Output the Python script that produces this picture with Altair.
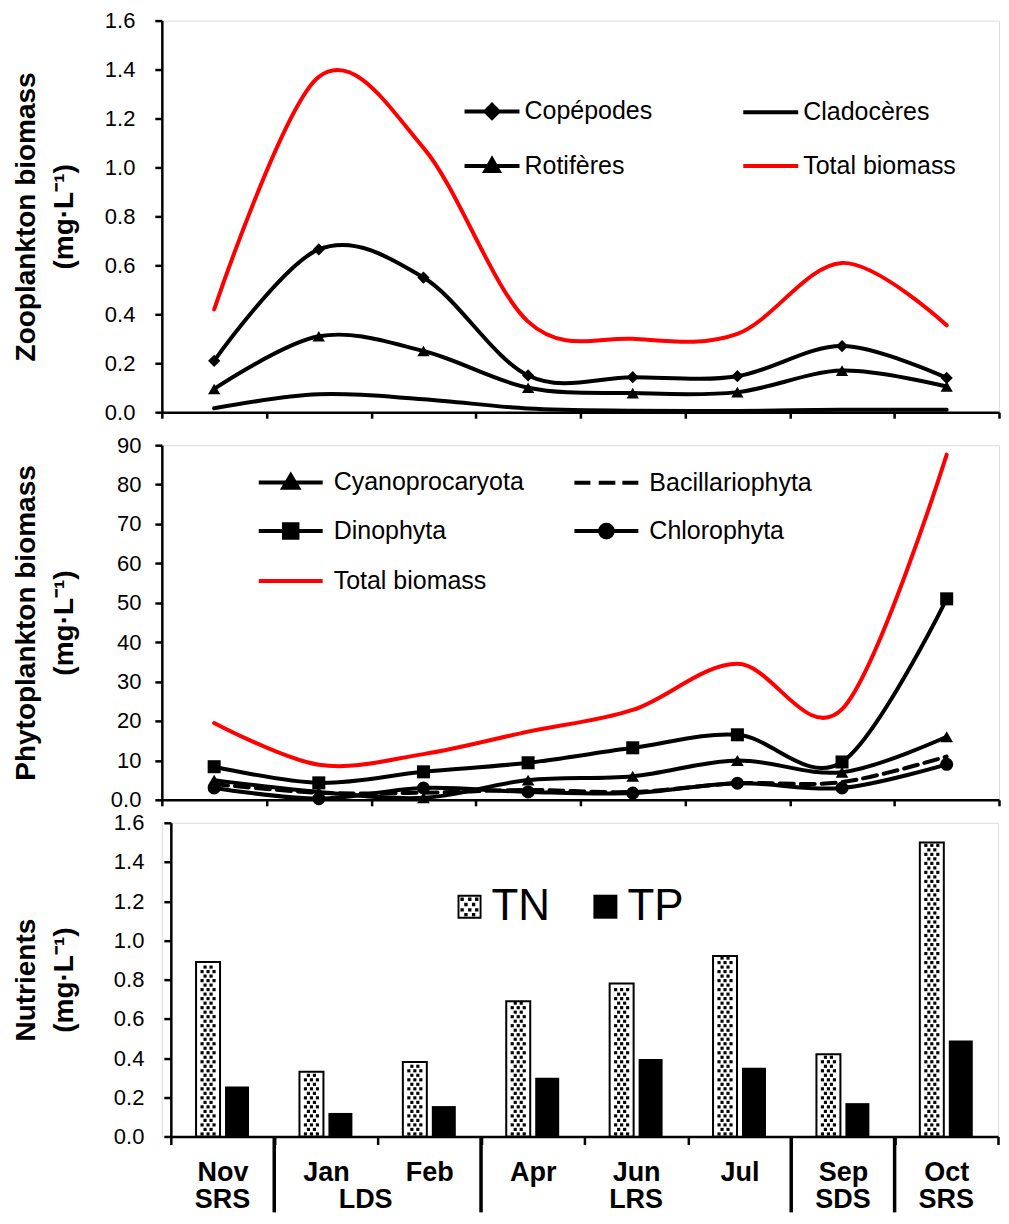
import altair as alt
import pandas as pd

FONT = "Liberation Sans"

months = ["Nov", "Jan", "Feb", "Apr", "Jun", "Jul", "Sep", "Oct"]

# Zooplankton biomass (mg/L)
copepodes = [0.21, 0.665, 0.55, 0.15, 0.143, 0.147, 0.27, 0.14]
cladoceres = [0.016, 0.073, 0.053, 0.015, 0.006, 0.005, 0.010, 0.010]
rotiferes = [0.095, 0.31, 0.25, 0.10, 0.078, 0.082, 0.17, 0.105]
total_zoo = [0.42, 1.37, 1.08, 0.37, 0.30, 0.32, 0.61, 0.355]

# Phytoplankton biomass (mg/L)
cyano = [5.0, 2.0, 0.5, 5.0, 6.0, 10.0, 7.0, 16.0]
bacil = [4.0, 1.8, 1.8, 2.5, 2.0, 4.2, 4.5, 11.0]
dino = [8.4, 4.3, 7.1, 9.4, 13.2, 16.5, 9.6, 51.0]
chloro = [3.0, 0.3, 3.0, 2.0, 1.7, 4.2, 3.0, 9.0]
total_phyto = [19.5, 8.9, 11.6, 17.3, 22.8, 34.5, 23.0, 87.6]

# Nutrients (mg/L)
tn = [0.89, 0.33, 0.38, 0.69, 0.78, 0.92, 0.42, 1.50]
tp = [0.255, 0.12, 0.155, 0.30, 0.395, 0.35, 0.17, 0.49]

# Seasons
season_center_months = ["Nov", "Jun", "Sep", "Oct"]
season_center_labels = ["SRS", "LRS", "SDS", "SRS"]
season_edge_months = ["Feb"]
season_edge_labels = ["LDS"]
group_edge_months = ["Jan", "Apr", "Sep", "Oct"]

# legend orders (legend grid is filled column by column)
zoo_names = ["Copépodes", "Rotifères", "Cladocères", "Total biomass"]
phyto_names = ["Cyanoprocaryota", "Dinophyta", "Total biomass", "Bacillariophyta", "Chlorophyta"]
nut_names = ["TN", "TP"]

zoo_df = pd.DataFrame({"month": months, "cop": copepodes, "cla": cladoceres,
                       "rot": rotiferes, "tot": total_zoo})
phy_df = pd.DataFrame({"month": months, "cya": cyano, "bac": bacil, "din": dino,
                       "chl": chloro, "tot": total_phyto})
nut_df = pd.DataFrame({"month": months, "TN": tn, "TP": tp})

W_TOP, H_TOP = 838, 392
W_MID, H_MID = 838, 355
W_BOT, H_BOT = 837, 314
BOT_SHIFT = 9

TITLE_KW = dict(titleFont=FONT, titleFontSize=28, titleFontWeight="bold",
                titleLineHeight=38, titleColor="black",
                minExtent=63, maxExtent=63)
YAX_KW = dict(labelFont=FONT, labelFontSize=22, labelColor="black", tickSize=7,
              tickWidth=2.5, domainWidth=2.5, domainColor="black", tickColor="black",
              grid=False, labelOverlap=False)


def xscale():
    return alt.Scale(type="band", domain=months, paddingInner=0, paddingOuter=0)


def bscale():
    return alt.Scale(type="band", domain=months, paddingInner=0, paddingOuter=0,
                     range=[BOT_SHIFT, W_BOT])


top_xaxis = alt.Axis(title=None, labels=False, tickBand="extent", tickSize=6,
                     tickWidth=2.5, domainWidth=2.5, domainColor="black", tickColor="black",
                     grid=False)


def line_layer(df, field, yscale, yaxis, color="black", dash=None):
    kw = dict(color=color, strokeWidth=4, interpolate="cardinal", tension=0,
              strokeCap="round", strokeJoin="round")
    if dash:
        kw["strokeDash"] = dash
    return alt.Chart(df).mark_line(**kw).encode(
        x=alt.X("month:N", sort=months, scale=xscale(), axis=top_xaxis),
        y=alt.Y(f"{field}:Q", scale=yscale, axis=yaxis))


def point_layer(df, field, yscale, yaxis, shape, size):
    return alt.Chart(df).mark_point(shape=shape, filled=True, size=size, color="black",
                                    opacity=1).encode(
        x=alt.X("month:N", sort=months, scale=xscale(), axis=top_xaxis),
        y=alt.Y(f"{field}:Q", scale=yscale, axis=yaxis))


def legend_layer(names, paths, colors, leg, with_stroke=True):
    df = pd.DataFrame({"series": names})
    enc = dict(
        shape=alt.Shape("series:N", scale=alt.Scale(domain=names, range=paths), legend=leg),
        fill=alt.Fill("series:N", scale=alt.Scale(domain=names, range=colors), legend=leg),
    )
    if with_stroke:
        enc["stroke"] = alt.Stroke("series:N", scale=alt.Scale(domain=names, range=colors),
                                   legend=leg)
    return alt.Chart(df).transform_filter("false").mark_point(filled=True, opacity=1).encode(**enc)


# ---------------- top panel ----------------
zscale = alt.Scale(domain=[0, 1.6], nice=False, zero=True)
zaxis = alt.Axis(values=[0, 0.2, 0.4, 0.6, 0.8, 1.0, 1.2, 1.4, 1.6], format=".1f",
                 title=["Zooplankton biomass", "(mg·L⁻¹)"], labelPadding=20, titlePadding=20,
                 **TITLE_KW, **YAX_KW)

P_LINE = "M-1,0L1,0"
P_DIAMOND = "M-1,0L1,0M0,-0.24L0.24,0L0,0.24L-0.24,0Z"
P_TRI_Z = "M-1,0L1,0M0,-0.24L0.24,0.18L-0.24,0.18Z"
zoo_paths = [P_DIAMOND, P_TRI_Z, P_LINE, P_LINE]
zoo_colors = ["black", "black", "black", "red"]
zleg = alt.Legend(orient="none", legendX=301, legendY=61, columns=2, title=None,
                  labelFont=FONT, labelFontSize=25, labelColor="black", labelLimit=400,
                  symbolSize=3025, symbolStrokeWidth=4, labelOffset=3,
                  columnPadding=83, rowPadding=10, symbolOpacity=1)

top = alt.layer(
    line_layer(zoo_df, "tot", zscale, zaxis, color="red"),
    line_layer(zoo_df, "cop", zscale, zaxis),
    line_layer(zoo_df, "cla", zscale, zaxis),
    line_layer(zoo_df, "rot", zscale, zaxis),
    point_layer(zoo_df, "cop", zscale, zaxis, "diamond", 150),
    point_layer(zoo_df, "rot", zscale, zaxis, "triangle-up", 150),
    legend_layer(zoo_names, zoo_paths, zoo_colors, zleg),
).properties(width=W_TOP, height=H_TOP)

# ---------------- middle panel ----------------
pscale = alt.Scale(domain=[0, 90], nice=False, zero=True)
paxis = alt.Axis(values=list(range(0, 91, 10)),
                 labelExpr="datum.value == 0 ? '0.0' : datum.label",
                 title=["Phytoplankton biomass", "(mg·L⁻¹)"], labelPadding=14, titlePadding=20,
                 **TITLE_KW, **YAX_KW)

circ = "M-0.2,0A0.2,0.2 0 1,0 0.2,0A0.2,0.2 0 1,0 -0.2,0Z"
P_TRI_P = "M-1,0L1,0M0,-0.22L0.23,0.17L-0.23,0.17Z"
P_DASH = "M-1,0L-0.5,0M-0.24,0L0.28,0M0.5,0L1,0"
P_SQUARE = "M-1,0L1,0M-0.21,-0.21L0.21,-0.21L0.21,0.21L-0.21,0.21Z"
P_CIRCLE = "M-1,0L1,0" + circ
phyto_paths = [P_TRI_P, P_SQUARE, P_LINE, P_DASH, P_CIRCLE]
phyto_colors = ["black", "black", "red", "black", "black"]
pleg = alt.Legend(orient="none", legendX=95, legendY=3, columns=2, title=None,
                  labelFont=FONT, labelFontSize=25, labelColor="black", labelLimit=400,
                  symbolSize=4096, symbolStrokeWidth=4, labelOffset=9,
                  columnPadding=42, rowPadding=1, symbolOpacity=1)

middle = alt.layer(
    line_layer(phy_df, "tot", pscale, paxis, color="red"),
    line_layer(phy_df, "din", pscale, paxis),
    line_layer(phy_df, "cya", pscale, paxis),
    line_layer(phy_df, "bac", pscale, paxis, dash=[14, 7]),
    line_layer(phy_df, "chl", pscale, paxis),
    point_layer(phy_df, "din", pscale, paxis, "square", 170),
    point_layer(phy_df, "cya", pscale, paxis, "triangle-up", 160),
    point_layer(phy_df, "chl", pscale, paxis, "circle", 170),
    legend_layer(phyto_names, phyto_paths, phyto_colors, pleg),
).properties(width=W_MID, height=H_MID)

# ---------------- bottom panel ----------------
nscale = alt.Scale(domain=[0, 1.6], nice=False, zero=True)
naxis = alt.Axis(values=[0, 0.2, 0.4, 0.6, 0.8, 1.0, 1.2, 1.4, 1.6], format=".1f",
                 title=["Nutrients", "(mg·L⁻¹)"], labelPadding=20, titlePadding=29,
                 offset=-BOT_SHIFT, **TITLE_KW, **YAX_KW)
bot_xaxis = alt.Axis(title=None, labels=True, tickBand="extent", tickSize=8,
                     tickWidth=2.5, domainWidth=2.5, domainColor="black", tickColor="black",
                     labelFont=FONT, labelFontSize=27, labelFontWeight="bold",
                     labelColor="black", labelPadding=15, labelAngle=0, grid=False)

# TN legend symbol: thin frame with dots inside (nonzero fill rule)
dots = []
k = 0
for yy in [-0.62, -0.18, 0.26, 0.66]:
    xs = [-0.62, 0.02, 0.6] if k % 2 == 0 else [-0.3, 0.34]
    for xx in xs:
        dots.append(f"M{xx - 0.14:.2f},{yy - 0.14:.2f}L{xx + 0.14:.2f},{yy - 0.14:.2f}"
                    f"L{xx + 0.14:.2f},{yy + 0.14:.2f}L{xx - 0.14:.2f},{yy + 0.14:.2f}Z")
    k += 1
tn_path = ("M-1,-1L1,-1L1,1L-1,1Z" "M-0.84,-0.84L-0.84,0.84L0.84,0.84L0.84,-0.84Z" + "".join(dots))
nleg = alt.Legend(orient="none", legendX=286, legendY=62, direction="horizontal", title=None,
                  labelFont=FONT, labelFontSize=44, labelColor="black",
                  symbolSize=576, symbolStrokeWidth=0, labelOffset=0,
                  columnPadding=33, symbolOpacity=1)

xb = alt.X("month:N", sort=months, scale=bscale(), axis=bot_xaxis)

tn_bars = alt.Chart(nut_df).mark_bar(size=24, xOffset=-14.5, fill="white", stroke="black",
                                     strokeWidth=2).encode(
    x=xb, y=alt.Y("TN:Q", scale=nscale, axis=naxis))
tp_bars = alt.Chart(nut_df).mark_bar(size=24, xOffset=14.5, fill="black", color="black").encode(
    x=xb, y=alt.Y("TP:Q", scale=nscale, axis=naxis))

dot_layers = []
row_step = 0.046
for start, cols in [(0.013, [-20.5, -14.5, -8.5]), (0.036, [-17.5, -11.5])]:
    for cx in cols:
        dot_layers.append(
            alt.Chart(nut_df)
            .transform_calculate(dy=f"sequence({start}, datum.TN - 0.009, {row_step})")
            .transform_flatten(["dy"])
            .mark_square(size=10, xOffset=cx, color="black", opacity=1)
            .encode(x=xb, y=alt.Y("dy:Q", scale=nscale, axis=naxis))
        )

edge_df = pd.DataFrame({"month": group_edge_months})
edges = alt.Chart(edge_df).mark_rule(color="black", strokeWidth=3.5).encode(
    x=alt.X("month:N", sort=months, bandPosition=0, scale=bscale(), axis=bot_xaxis),
    y=alt.value(H_BOT), y2=alt.value(H_BOT + 76))

sc_df = pd.DataFrame({"month": season_center_months, "label": season_center_labels})
se_df = pd.DataFrame({"month": season_edge_months, "label": season_edge_labels})
TXT = dict(font=FONT, fontSize=27, fontWeight="bold", color="black", baseline="middle",
           align="center")
season_c = alt.Chart(sc_df).mark_text(**TXT).encode(
    x=alt.X("month:N", sort=months, scale=bscale(), axis=bot_xaxis),
    y=alt.value(H_BOT + 64), text="label:N")
season_e = alt.Chart(se_df).mark_text(**TXT, dx=-12).encode(
    x=alt.X("month:N", sort=months, bandPosition=0, scale=bscale(), axis=bot_xaxis),
    y=alt.value(H_BOT + 64), text="label:N")

bottom = alt.layer(
    tn_bars, tp_bars, *dot_layers, edges, season_c, season_e,
    legend_layer(nut_names, [tn_path, "square"], ["black", "black"], nleg, with_stroke=False),
).properties(width=W_BOT, height=H_BOT)

RES = dict(x="independent", y="independent", shape="independent", fill="independent",
           stroke="independent")
LRES = dict(shape="independent", fill="independent", stroke="independent")

inner = alt.vconcat(top, middle, spacing=9).resolve_scale(**RES).resolve_legend(**LRES)
chart = alt.vconcat(inner, bottom, spacing=-1).resolve_scale(**RES).resolve_legend(**LRES).properties(
    padding={"left": 4, "top": 0, "right": 0, "bottom": -3}
).configure_view(stroke=None).configure(font=FONT)

chart.save("out.html", embed_options={"renderer": "svg", "actions": False})
